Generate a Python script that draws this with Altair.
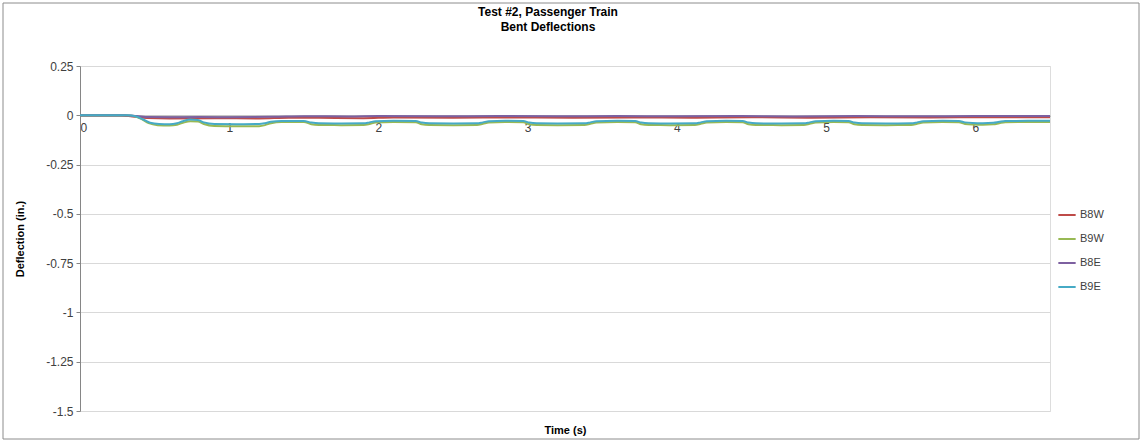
import altair as alt
import pandas as pd

# Bent deflection records, (time s, deflection in.) breakpoints per gauge
B8W = [(0, 0), (0.27, 0), (0.35, -0.006), (0.45, -0.014), (0.6, -0.016), (0.9, -0.015),
       (1.2, -0.016), (1.4, -0.012), (1.6, -0.013), (1.9, -0.015), (2.1, -0.011),
       (2.5, -0.012), (2.9, -0.011), (3.3, -0.012), (3.7, -0.011), (4.1, -0.012),
       (4.5, -0.010), (4.9, -0.012), (5.3, -0.010), (5.7, -0.011), (6.1, -0.010), (6.5, -0.010)]

B9W = [(0, 0), (0.30, 0), (0.36, -0.004), (0.41, -0.018), (0.46, -0.040), (0.52, -0.050),
       (0.60, -0.052), (0.65, -0.048), (0.69, -0.038), (0.74, -0.030), (0.79, -0.031),
       (0.83, -0.044), (0.90, -0.054), (1.05, -0.056), (1.20, -0.055), (1.24, -0.050),
       (1.28, -0.040), (1.35, -0.034), (1.50, -0.034), (1.55, -0.045), (1.60, -0.049),
       (1.75, -0.050), (1.90, -0.049), (1.94, -0.044), (1.98, -0.036), (2.10, -0.034),
       (2.25, -0.035), (2.29, -0.045), (2.34, -0.049), (2.50, -0.050), (2.66, -0.049),
       (2.70, -0.043), (2.74, -0.036), (2.85, -0.034), (2.97, -0.035), (3.01, -0.045),
       (3.06, -0.049), (3.20, -0.050), (3.38, -0.049), (3.42, -0.043), (3.46, -0.036),
       (3.60, -0.034), (3.72, -0.035), (3.76, -0.045), (3.81, -0.049), (3.95, -0.050),
       (4.12, -0.049), (4.16, -0.043), (4.20, -0.036), (4.33, -0.034), (4.44, -0.035),
       (4.48, -0.045), (4.53, -0.049), (4.70, -0.050), (4.85, -0.049), (4.89, -0.043),
       (4.93, -0.036), (5.05, -0.034), (5.15, -0.035), (5.19, -0.045), (5.24, -0.049),
       (5.40, -0.050), (5.57, -0.049), (5.61, -0.043), (5.65, -0.036), (5.78, -0.034),
       (5.89, -0.035), (5.93, -0.044), (5.98, -0.047), (6.05, -0.048), (6.12, -0.046),
       (6.16, -0.040), (6.20, -0.035), (6.35, -0.034), (6.50, -0.034)]

B8E = [(0, 0), (0.30, 0), (0.38, -0.004), (0.46, -0.009), (0.6, -0.010), (0.8, -0.009),
       (1.0, -0.010), (1.3, -0.008), (1.5, -0.005), (1.8, -0.006), (2.0, -0.004),
       (2.4, -0.005), (2.8, -0.004), (3.2, -0.005), (3.6, -0.004), (4.0, -0.005),
       (4.4, -0.004), (4.8, -0.006), (5.2, -0.004), (5.6, -0.005), (6.0, -0.004), (6.5, -0.004)]

B9E = [(0, 0), (0.32, 0), (0.37, -0.005), (0.42, -0.020), (0.47, -0.038), (0.53, -0.044),
       (0.60, -0.045), (0.65, -0.040), (0.69, -0.030), (0.74, -0.022), (0.79, -0.024),
       (0.83, -0.036), (0.90, -0.044), (1.05, -0.045), (1.20, -0.044), (1.24, -0.040),
       (1.28, -0.033), (1.35, -0.029), (1.50, -0.029), (1.55, -0.037), (1.60, -0.041),
       (1.75, -0.042), (1.90, -0.041), (1.94, -0.036), (1.98, -0.030), (2.10, -0.028),
       (2.25, -0.029), (2.29, -0.037), (2.34, -0.041), (2.50, -0.042), (2.66, -0.041),
       (2.70, -0.036), (2.74, -0.030), (2.85, -0.028), (2.97, -0.029), (3.01, -0.037),
       (3.06, -0.041), (3.20, -0.042), (3.38, -0.041), (3.42, -0.036), (3.46, -0.030),
       (3.60, -0.028), (3.72, -0.029), (3.76, -0.037), (3.81, -0.041), (3.95, -0.042),
       (4.12, -0.041), (4.16, -0.036), (4.20, -0.030), (4.33, -0.028), (4.44, -0.029),
       (4.48, -0.037), (4.53, -0.041), (4.70, -0.042), (4.85, -0.041), (4.89, -0.036),
       (4.93, -0.030), (5.05, -0.028), (5.15, -0.029), (5.19, -0.037), (5.24, -0.041),
       (5.40, -0.042), (5.57, -0.041), (5.61, -0.036), (5.65, -0.030), (5.78, -0.028),
       (5.89, -0.029), (5.93, -0.036), (5.98, -0.039), (6.05, -0.040), (6.12, -0.038),
       (6.16, -0.033), (6.20, -0.029), (6.35, -0.028), (6.50, -0.028)]

SERIES = ["B8W", "B9W", "B8E", "B9E"]
COLORS = ["#BE4B48", "#98B954", "#7D60A0", "#46AAC5"]
Y_TICKS = [0.25, 0, -0.25, -0.5, -0.75, -1, -1.25, -1.5]
X_TICKS = [0, 1, 2, 3, 4, 5, 6]
TITLE_LINES = ["Test #2, Passenger Train", "Bent Deflections"]

rows = []
for name, pts in zip(SERIES, [B8W, B9W, B8E, B9E]):
    for t, v in pts:
        rows.append({"gauge": name, "time": t, "deflection": v})
df = pd.DataFrame(rows)

W, H = 970, 345
FONT = "Liberation Sans"
ZERO_Y = H * 0.25 / 1.75  # pixel row of deflection 0 inside the plot

# outer chart frame
frame = alt.Chart(pd.DataFrame({"k": [0]})).mark_rect(
    fill=None, stroke="#8C8C8C", strokeWidth=1, clip=False
).encode(x=alt.value(-77), x2=alt.value(1059), y=alt.value(-63), y2=alt.value(373))

# two-line chart heading
heading_top = alt.Chart(pd.DataFrame({"line": TITLE_LINES[:1]})).mark_text(
    font=FONT, fontSize=12, fontWeight="bold", color="#000000", align="center",
    baseline="middle", clip=False,
).encode(text="line:N", x=alt.value(W / 2 - 17), y=alt.value(-54))
heading_bottom = alt.Chart(pd.DataFrame({"line": TITLE_LINES[1:]})).mark_text(
    font=FONT, fontSize=12, fontWeight="bold", color="#000000", align="center",
    baseline="middle", clip=False,
).encode(text="line:N", x=alt.value(W / 2 - 17), y=alt.value(-39))

x_enc = alt.X(
    "time:Q",
    scale=alt.Scale(domain=[0, 6.5], nice=False),
    axis=alt.Axis(
        values=X_TICKS, offset=-(H - ZERO_Y) + 0.5, grid=False, domain=True,
        domainColor="#868686", ticks=False, labelPadding=7, title="Time (s)",
        titleY=(H - ZERO_Y) + 13, titleFontWeight="bold", titleFontSize=11,
        titleColor="#000000", labelFontSize=12, labelColor="#404040",
        labelFont=FONT, titleFont=FONT,
    ),
)
y_enc = alt.Y(
    "deflection:Q",
    scale=alt.Scale(domain=[-1.5, 0.25], nice=False, zero=False),
    axis=alt.Axis(
        values=Y_TICKS, labelExpr="toString(datum.value)", grid=True,
        gridColor="#D9D9D9", domainColor="#868686", ticks=True, tickSize=4,
        tickColor="#868686", labelFontSize=12, labelColor="#404040", labelPadding=3,
        title="Deflection (in.)", titleFontWeight="bold", titleFontSize=11,
        titleColor="#000000", titlePadding=20, labelFont=FONT, titleFont=FONT,
    ),
)

lines = alt.Chart(df).mark_line(strokeWidth=2, interpolate="monotone").encode(
    x=x_enc,
    y=y_enc,
    color=alt.Color(
        "gauge:N",
        scale=alt.Scale(domain=SERIES, range=COLORS),
        sort=SERIES,
        legend=alt.Legend(
            title=None, orient="none", legendX=977, legendY=139,
            symbolType="stroke", symbolStrokeWidth=2, symbolSize=300,
            labelFontSize=11, labelColor="#404040", labelFont=FONT,
            rowPadding=9, labelOffset=3,
        ),
    ),
    order=alt.Order("time:Q"),
)

chart = alt.layer(frame, heading_top, heading_bottom, lines).properties(
    width=W, height=H,
    autosize=alt.AutoSizeParams(type="none"),
    padding={"left": 80, "top": 66, "right": 92, "bottom": 31},
).configure_view(stroke=None).configure(background="white")

chart.save("out.html", embed_options={"renderer": "svg", "actions": False})
